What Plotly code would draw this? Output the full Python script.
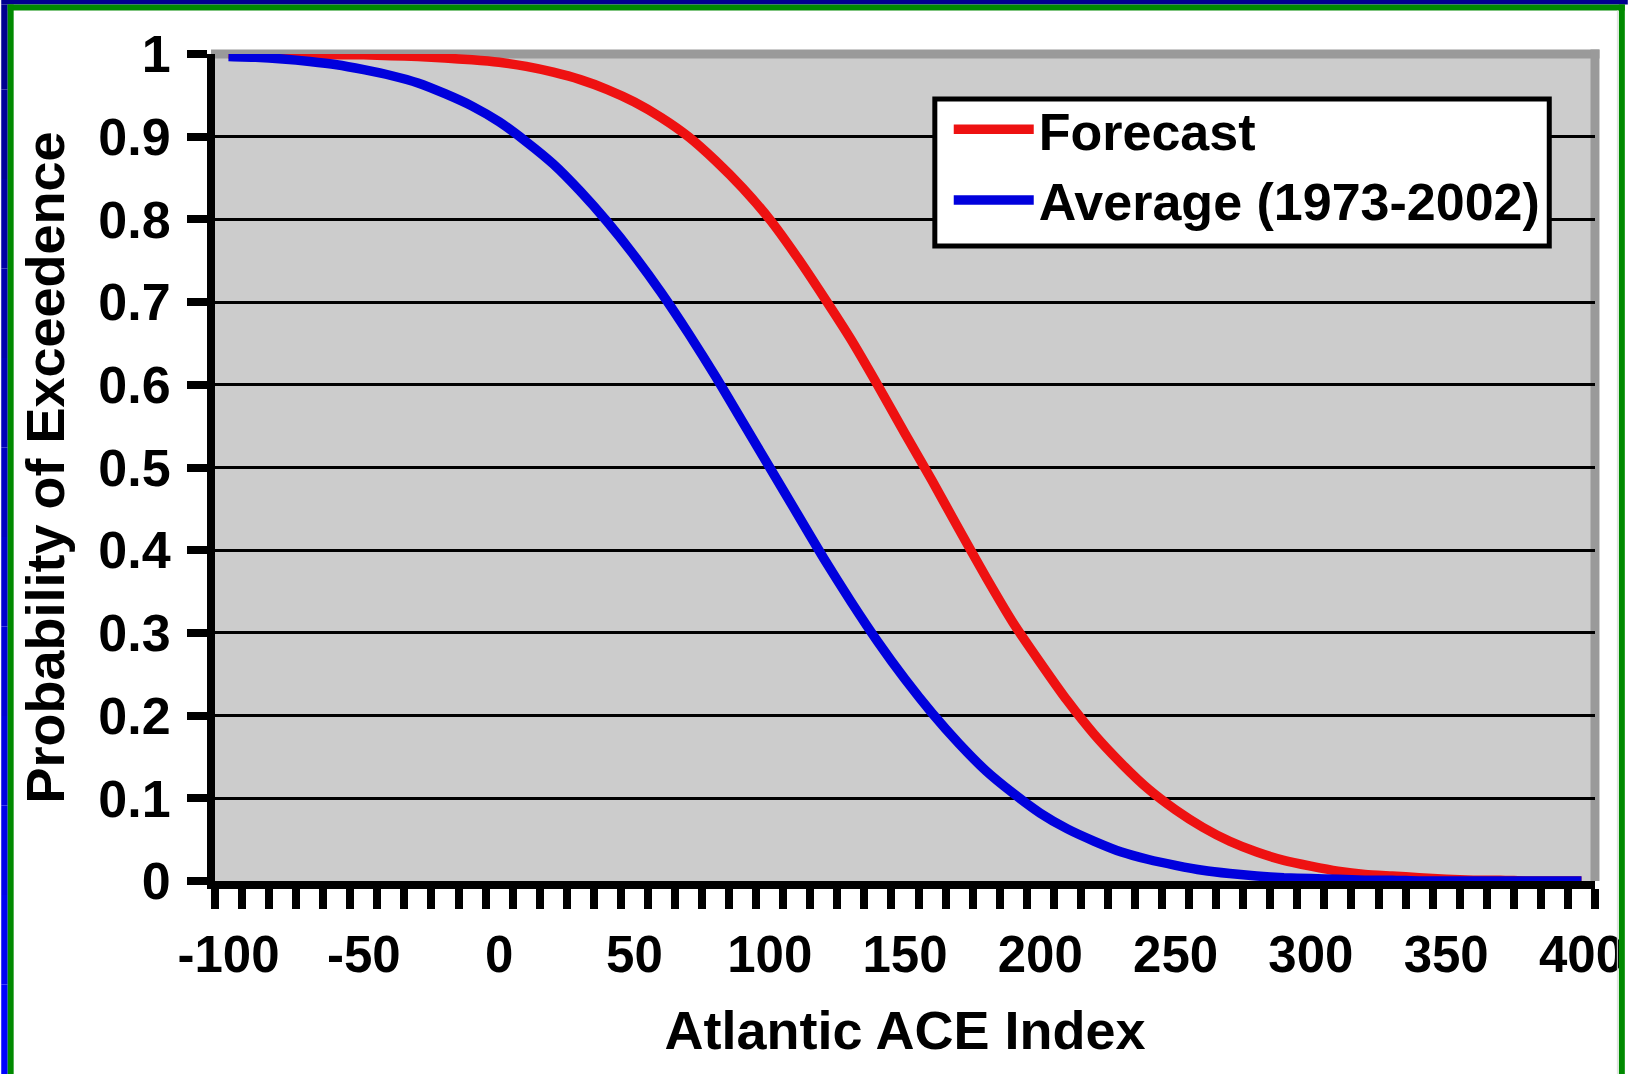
import plotly.graph_objects as go

# ---- data ----
ace_index = [-100, -90, -80, -70, -60, -50, -40, -30, -20, -10,
             0, 10, 20, 30, 40, 50, 60, 70, 80, 90,
             100, 110, 120, 130, 140, 150, 160, 170, 180, 190,
             200, 210, 220, 230, 240, 250, 260, 270, 280, 290,
             300, 310, 320, 330, 340, 350, 360, 370, 380, 390, 400]

forecast = [1.000, 1.000, 1.000, 1.000, 0.999, 0.999, 0.998, 0.997, 0.995, 0.993,
            0.990, 0.985, 0.978, 0.969, 0.957, 0.942, 0.923, 0.900, 0.871, 0.838,
            0.800, 0.755, 0.706, 0.655, 0.599, 0.541, 0.484, 0.425, 0.367, 0.312,
            0.264, 0.218, 0.177, 0.142, 0.111, 0.086, 0.065, 0.048, 0.035, 0.025,
            0.018, 0.012, 0.008, 0.006, 0.004, 0.002, 0.001, 0.001, 0.000, 0.000, 0.000]

average = [0.997, 0.996, 0.994, 0.991, 0.987, 0.981, 0.974, 0.965, 0.952, 0.937,
           0.918, 0.894, 0.867, 0.834, 0.797, 0.756, 0.711, 0.662, 0.610, 0.555,
           0.500, 0.445, 0.390, 0.338, 0.289, 0.244, 0.203, 0.166, 0.133, 0.106,
           0.082, 0.063, 0.048, 0.035, 0.026, 0.019, 0.013, 0.009, 0.006, 0.004,
           0.003, 0.002, 0.001, 0.001, 0.000, 0.000, 0.000, 0.000, 0.000, 0.000, 0.000]

x_tick_vals = [-100, -50, 0, 50, 100, 150, 200, 250, 300, 350, 400]
x_tick_text = ["-100", "-50", "0", "50", "100", "150", "200", "250", "300", "350", "400"]
x_boundaries = [v - 5 for v in ace_index] + [405]
y_tick_vals = [0, 0.1, 0.2, 0.3, 0.4, 0.5, 0.6, 0.7, 0.8, 0.9, 1]
y_tick_text = ["0", "0.1", "0.2", "0.3", "0.4", "0.5", "0.6", "0.7", "0.8", "0.9", "1"]

series_names = ["Forecast", "Average (1973-2002)"]
series_colors = ["#EE1111", "#0000DD"]

# ---- layout geometry ----
W, H = 1636, 1074
L, R, T, B = 215, 1603, 54, 881


def xp(px):
    return (px - L) / (R - L)


def yp(py):
    return (B - py) / (B - T)


FONT = "Liberation Sans, Arial, Helvetica, sans-serif"

fig = go.Figure()
for name, vals, col in zip(series_names, [forecast, average], series_colors):
    fig.add_trace(go.Scatter(x=ace_index, y=vals, mode="lines", name=name,
                             line=dict(color=col, width=9.5, shape="spline", smoothing=0.6)))

shapes = []
# outer frame
shapes.append(dict(type="rect", xref="paper", yref="paper", x0=xp(0), x1=xp(W), y0=yp(4.5), y1=yp(0),
                   fillcolor="#000090", line=dict(width=0), layer="above"))
nseg = 12
for i in range(nseg):
    f = i / (nseg - 1)
    b_ = int(0x90 + (0xFF - 0x90) * f)
    shapes.append(dict(type="rect", xref="paper", yref="paper",
                       x0=xp(0), x1=xp(6.5), y0=yp(H * (i + 1) / nseg), y1=yp(max(H * i / nseg, 4.5)),
                       fillcolor=f"rgb(0,0,{b_})", line=dict(width=0), layer="above"))
for (x0, x1, y0, y1) in [(6.5, 1633, 4.5, 10.5), (6.5, 12.5, 4.5, H), (1627, 1633, 4.5, H)]:
    shapes.append(dict(type="rect", xref="paper", yref="paper", x0=xp(x0), x1=xp(x1), y0=yp(y1), y1=yp(y0),
                       fillcolor="#008A00", line=dict(width=0), layer="above"))
shapes.append(dict(type="line", xref="paper", yref="paper", x0=xp(1625.5), x1=xp(1625.5), y0=yp(H), y1=yp(10.5),
                   line=dict(color="#DDDDDD", width=1), layer="above"))
# plot-area wall edge (top and right)
shapes.append(dict(type="rect", xref="paper", yref="paper", x0=xp(L - 4), x1=xp(1607.5), y0=yp(58.5), y1=yp(49.5),
                   fillcolor="#9A9A9A", line=dict(width=0), layer="between"))
shapes.append(dict(type="rect", xref="paper", yref="paper", x0=xp(1598.5), x1=xp(1607.5), y0=yp(B), y1=yp(49.5),
                   fillcolor="#9A9A9A", line=dict(width=0), layer="between"))
# legend box
shapes.append(dict(type="rect", xref="paper", yref="paper", x0=xp(939), x1=xp(1557), y0=yp(246), y1=yp(99),
                   fillcolor="white", line=dict(color="black", width=5), layer="above"))

fig.update_layout(
    width=W, height=H,
    margin=dict(l=L, r=W - R, t=T, b=H - B, pad=0),
    paper_bgcolor="white",
    plot_bgcolor="#CCCCCC",
    font=dict(family=FONT, color="black", size=51, weight="bold"),
    shapes=shapes,
    showlegend=True,
    legend=dict(x=xp(953), y=yp(89), xanchor="left", yanchor="top",
                bgcolor="rgba(0,0,0,0)", borderwidth=0,
                font=dict(family=FONT, size=52, color="black", weight="bold"),
                itemwidth=80, traceorder="normal"),
    xaxis=dict(range=[-105, 405], showgrid=False, zeroline=False,
               showline=True, linecolor="black", linewidth=8,
               tickmode="array", tickvals=x_tick_vals, ticktext=x_tick_text, ticks="",
               ticklabelstandoff=22,
               tickfont=dict(family=FONT, size=51, color="black", weight="bold"),
               minor=dict(tickmode="array", tickvals=x_boundaries, ticks="outside",
                          ticklen=20, tickwidth=8, tickcolor="black", showgrid=False),
               title=dict(text="Atlantic ACE Index", standoff=32,
                          font=dict(family=FONT, size=54, color="black", weight="bold"))),
    yaxis=dict(range=[0, 1], showgrid=True, gridcolor="black", gridwidth=2.5, zeroline=False,
               showline=True, linecolor="black", linewidth=8,
               tickmode="array", tickvals=y_tick_vals, ticktext=y_tick_text,
               ticks="outside", ticklen=20, tickwidth=8, tickcolor="black",
               ticklabelstandoff=6,
               tickfont=dict(family=FONT, size=52, color="black", weight="bold"),
               title=dict(text="Probability of Exceedence", standoff=19,
                          font=dict(family=FONT, size=54, color="black", weight="bold"))),
)

fig.write_html("out.html")
